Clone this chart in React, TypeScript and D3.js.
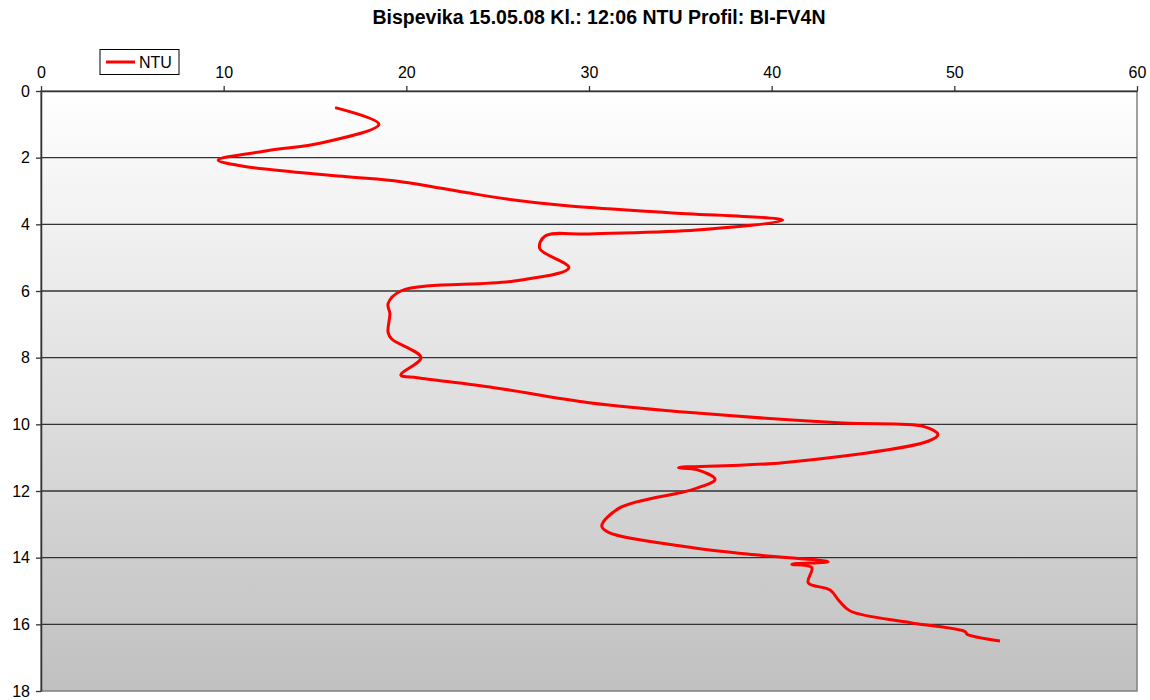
import React, { useEffect, useRef } from "react";
import * as d3 from "d3";

const title = "Bispevika 15.05.08 Kl.: 12:06 NTU Profil: BI-FV4N";
const seriesName = "NTU";

// depth (m), top to bottom
const depths = [
  0.5, 1.0, 1.55, 1.8, 2.07, 2.25, 2.56, 2.72, 3.04, 3.24, 3.44, 3.65, 3.88,
  4.17, 4.29, 4.35, 4.72, 5.3, 5.7, 6.0, 6.38, 6.68, 7.24, 7.44, 8.0, 8.52,
  8.6, 8.9, 9.35, 9.67, 9.96, 10.06, 10.3, 10.5, 11.15, 11.3, 11.36, 11.65,
  11.95, 12.5, 13.05, 13.25, 13.7, 13.93, 14.12, 14.2, 14.3, 14.75, 14.97,
  15.3, 15.6, 15.95, 16.22, 16.3, 16.5,
];
// NTU values at each depth
const ntu = [
  16.1, 18.5, 15.4, 12.3, 9.7, 11.0, 16.5, 19.7, 23.2, 25.5, 28.8, 34.4, 40.6,
  35.9, 30.0, 27.6, 27.3, 28.9, 25.9, 19.7, 19.0, 19.1, 19.0, 19.2, 20.8, 19.7,
  20.6, 24.8, 30.0, 36.1, 43.9, 48.3, 49.1, 48.6, 40.6, 34.9, 35.9, 36.9,
  35.7, 31.7, 30.7, 31.1, 35.7, 39.4, 43.1, 41.1, 42.2, 42.0, 43.2,
  43.7, 44.3, 47.6, 50.6, 50.7, 52.5,
];

const xTicks = [0, 10, 20, 30, 40, 50, 60];
const yTicks = [0, 2, 4, 6, 8, 10, 12, 14, 16, 18];

export default function App() {
  const svgRef = useRef<SVGSVGElement>(null);

  useEffect(() => {
    const width = 1150;
    const height = 700;
    const left = 41;
    const right = 1137;
    const top = 91;
    const bottom = 691;
    const font = "Arial, 'Liberation Sans', sans-serif";

    const svg = d3.select(svgRef.current);
    svg.selectAll("*").remove();

    const x = d3.scaleLinear().domain([0, 60]).range([left, right]);
    const y = d3.scaleLinear().domain([0, 18]).range([top, bottom]);

    // plot background gradient
    const grad = svg
      .append("defs")
      .append("linearGradient")
      .attr("id", "bg")
      .attr("x1", 0)
      .attr("y1", 0)
      .attr("x2", 0)
      .attr("y2", 1);
    grad.append("stop").attr("offset", "0%").attr("stop-color", "#ffffff");
    grad.append("stop").attr("offset", "100%").attr("stop-color", "#c0c0c0");

    svg
      .append("rect")
      .attr("x", left)
      .attr("y", top)
      .attr("width", right - left)
      .attr("height", bottom - top)
      .attr("fill", "url(#bg)")
      .attr("stroke", "#808080")
      .attr("stroke-width", 1.5);

    // horizontal gridlines
    svg
      .append("g")
      .selectAll("line")
      .data(yTicks.filter((t) => t > 0 && t < 18))
      .join("line")
      .attr("x1", left)
      .attr("x2", right)
      .attr("y1", (d) => y(d))
      .attr("y2", (d) => y(d))
      .attr("stroke", "#333")
      .attr("stroke-width", 1.3);

    // top axis
    const xAxis = svg
      .append("g")
      .attr("transform", `translate(0,${top})`)
      .call(d3.axisTop(x).tickValues(xTicks).tickSize(5).tickSizeOuter(0));
    xAxis.select(".domain").attr("stroke", "#333").attr("stroke-width", 1.5);
    xAxis.selectAll(".tick line").attr("stroke", "#333").attr("stroke-width", 1.3);
    xAxis
      .selectAll(".tick text")
      .attr("font-family", font)
      .attr("font-size", 16)
      .attr("fill", "#000")
      .attr("y", -13);

    // left axis
    const yAxis = svg
      .append("g")
      .attr("transform", `translate(${left},0)`)
      .call(d3.axisLeft(y).tickValues(yTicks).tickSize(5).tickSizeOuter(0));
    yAxis.select(".domain").attr("stroke", "#333").attr("stroke-width", 1.5);
    yAxis.selectAll(".tick line").attr("stroke", "#333").attr("stroke-width", 1.3);
    yAxis
      .selectAll(".tick text")
      .attr("font-family", font)
      .attr("font-size", 16)
      .attr("fill", "#000")
      .attr("x", -11);

    // the profile line
    const points: [number, number][] = depths.map((d, i) => [ntu[i], d]);
    const line = d3
      .line<[number, number]>()
      .x((d) => x(d[0]))
      .y((d) => y(d[1]))
      .curve(d3.curveCatmullRom.alpha(0.5));

    svg
      .append("path")
      .datum(points)
      .attr("d", line)
      .attr("fill", "none")
      .attr("stroke", "#ff0000")
      .attr("stroke-width", 3)
      .attr("stroke-linejoin", "round");

    // legend
    const lg = svg.append("g").attr("transform", "translate(100,49.5)");
    lg.append("rect")
      .attr("width", 79)
      .attr("height", 25)
      .attr("fill", "#fff")
      .attr("stroke", "#000")
      .attr("stroke-width", 1);
    lg.append("line")
      .attr("x1", 6)
      .attr("x2", 35)
      .attr("y1", 12.5)
      .attr("y2", 12.5)
      .attr("stroke", "#ff0000")
      .attr("stroke-width", 3);
    lg.append("text")
      .attr("x", 39)
      .attr("y", 18.5)
      .attr("font-family", font)
      .attr("font-size", 16)
      .text(seriesName);

    // title
    svg
      .append("text")
      .attr("x", 599)
      .attr("y", 24)
      .attr("text-anchor", "middle")
      .attr("font-family", font)
      .attr("font-size", 19.5)
      .attr("font-weight", "bold")
      .text(title);

    svg.attr("width", width).attr("height", height);
  }, []);

  return (
    <svg
      ref={svgRef}
      width={1150}
      height={700}
      style={{ position: "absolute", left: 0, top: 0, background: "#fff" }}
    />
  );
}
